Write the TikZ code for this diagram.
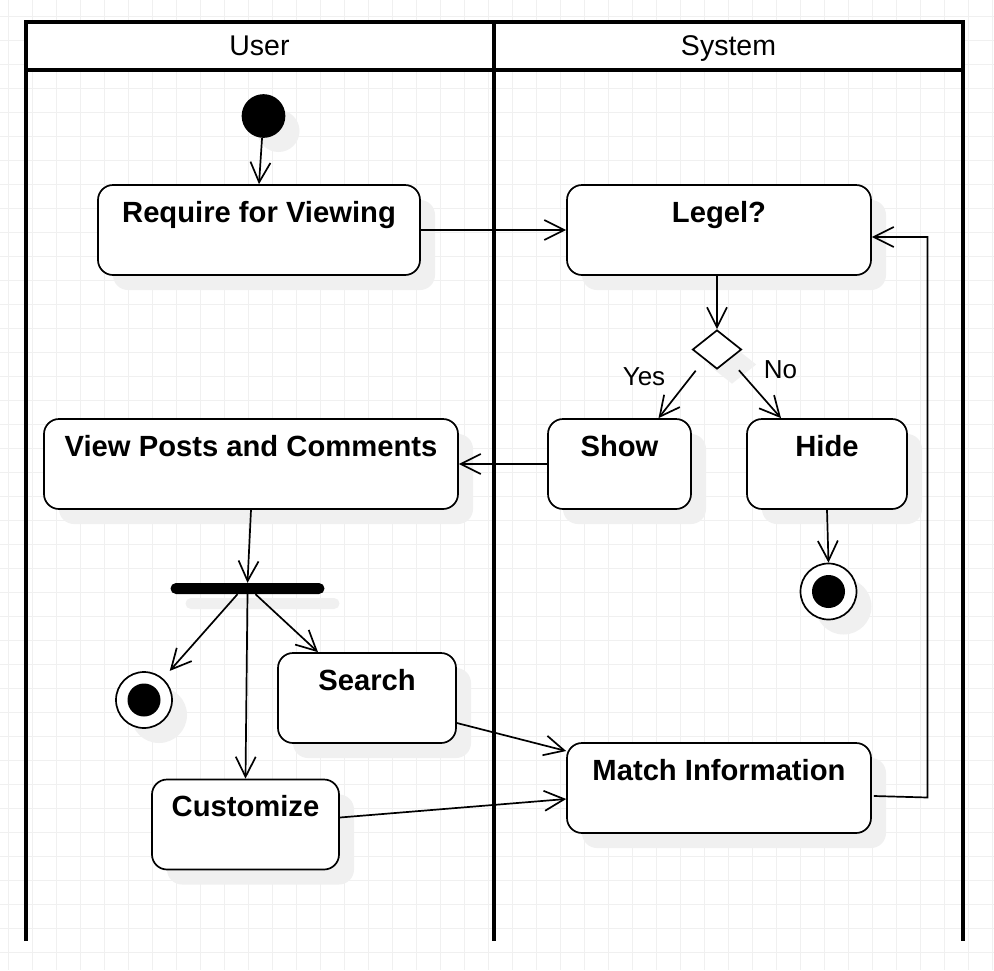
\documentclass[tikz,border=0pt]{standalone}
\usepackage{fontspec}
\setmainfont{Liberation Sans}
\usetikzlibrary{arrows.meta,shapes.geometric,shadows,calc}
\begin{document}
\begin{tikzpicture}[x=1pt,y=-1pt,
  gridline/.style={draw=black!6,line width=1pt},
  lane/.style={draw=black,line width=4pt,line join=miter},
  shad/.style={drop shadow={shadow xshift=15pt,shadow yshift=-15pt,fill=black!6,opacity=1}},
  act/.style={draw,line width=1.7pt,rounded corners=15pt,fill=white,shad,
    inner xsep=0pt,inner ysep=0pt,text height=37pt,text depth=53pt,
    font=\fontsize{29.2}{34}\selectfont\bfseries},
  hdr/.style={anchor=base,font=\fontsize{28.5}{34}\selectfont},
  lbl/.style={anchor=base,font=\fontsize{26}{30}\selectfont},
  arr/.style={draw,line width=1.7pt,-{Straight Barb[length=20pt,width=20pt]}},
  startdot/.style={circle,draw,fill=black,line width=1.7pt,minimum size=42pt,inner sep=0pt,shad},
  endring/.style={circle,draw,fill=white,line width=1.7pt,minimum size=56pt,inner sep=0pt,shad},
  enddot/.style={circle,fill=black,minimum size=33pt,inner sep=0pt},
  bar/.style={fill=black,rounded corners=5.5pt,minimum width=154pt,minimum height=11pt,inner sep=0pt,shad},
  decision/.style={diamond,draw,fill=white,line width=1.7pt,minimum width=49pt,minimum height=39pt,inner sep=0pt,aspect=1.25,shad}
]
\useasboundingbox (0,0) rectangle (994,970);
\fill[white] (0,0) rectangle (994,970);
% grid
\foreach \k in {0,...,41} \draw[gridline] ({8.7+24*\k},0) -- ({8.7+24*\k},970);
\foreach \k in {0,...,39} \draw[gridline] (0,{16.7+24*\k}) -- (994,{16.7+24*\k});
% swimlanes
\fill[white] (26,22) rectangle (963,70);
\draw[lane] (26,941) -- (26,22) -- (963,22) -- (963,941);
\draw[lane] (26,70) -- (963,70);
\draw[lane] (493.5,22) -- (493.5,941);
\node[hdr] (huser) at (259.5,55) {User};
\node[hdr] (hsys) at (728.5,55) {System};
% nodes
\node[startdot] (init) at (263.5,116) {};
\node[act,minimum width=322pt] (req) at (259,230) {Require for Viewing};
\node[act,minimum width=304pt] (legel) at (719,230) {Legel?};
\node[decision] (dia) at (717,349.5) {};
\node[act,minimum width=143pt] (show) at (619.5,464) {Show};
\node[act,minimum width=160pt] (hide) at (827,464) {Hide};
\node[endring] (end2) at (828.5,591.5) {};
\node[enddot] (end2c) at (end2) {};
\node[act,minimum width=414pt] (view) at (251,464) {View Posts and Comments};
\node[bar] (fork) at (247.5,588.5) {};
\node[endring] (end1) at (144,700) {};
\node[enddot] (end1c) at (end1) {};
\node[act,minimum width=178pt] (search) at (367,698) {Search};
\node[act,minimum width=187pt] (cust) at (245.5,824.5) {Customize};
\node[act,minimum width=304pt] (match) at (719,788) {Match Information};
\node[lbl] (yes) at (644,385) {Yes};
\node[lbl] (no) at (780.5,378) {No};
\coordinate (loopc) at (927.5,797.5);
% edges
\draw[arr] (init) -- (req.north);
\draw[arr] (req.east) -- (legel.west);
\draw[arr] (legel.south -| dia.north) -- (dia.north);
\draw[arr,shorten <=14pt] (dia.south west) -- ($(show.north)+(39,0)$);
\draw[arr,shorten <=14pt] (dia.south east) -- ($(hide.north)+(-46,0)$);
\draw[arr] (show.west) -- (view.east);
\draw[arr] (hide.south) -- (end2.north);
\draw[arr] (view.south) -- (fork.north);
\draw[arr,shorten >=10pt] ($(fork.south)+(-10,0)$) -- (end1);
\draw[arr] (fork.south) -- (cust.north);
\draw[arr] ($(fork.south)+(8,0)$) -- ($(search.north)+(-49,0)$);
\draw[arr] ($(search.east)+(0,25)$) -- ($(match.west)+(0,-37)$);
\draw[arr] ($(cust.east)+(0,-7)$) -- ($(match.west)+(0,11)$);
\draw[arr] ($(match.east)+(2,8)$) -- (loopc) |- ($(legel.east)+(0,7)$);
\end{tikzpicture}
\end{document}
